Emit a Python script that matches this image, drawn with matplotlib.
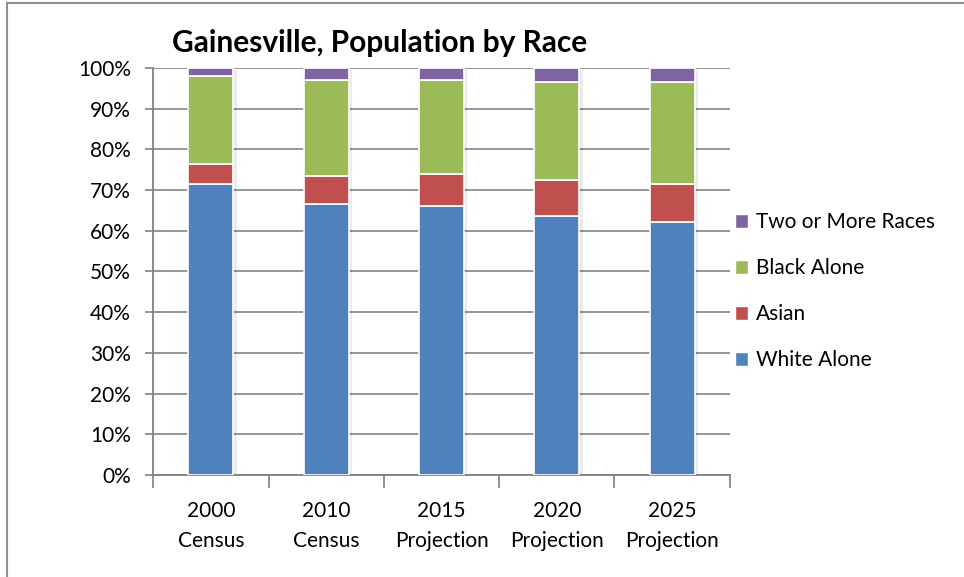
import matplotlib.pyplot as plt
import numpy as np
from matplotlib.lines import Line2D
from matplotlib.patches import Patch

plt.rcParams["font.family"] = ["Lato", "DejaVu Sans"]

CATEGORIES = ["2000\nCensus", "2010\nCensus", "2015\nProjection", "2020\nProjection", "2025\nProjection"]
WHITE = [71.5, 66.6, 66.1, 63.6, 62.2]
ASIAN = [4.9, 6.9, 7.8, 8.9, 9.2]
BLACK = [21.7, 23.6, 23.2, 24.0, 25.1]
TWO_PLUS = [1.9, 2.9, 2.9, 3.5, 3.5]

SERIES = [
    ("White Alone", WHITE, "#4F81BD"),
    ("Asian", ASIAN, "#C0504D"),
    ("Black Alone", BLACK, "#9BBB59"),
    ("Two or More Races", TWO_PLUS, "#8064A2"),
]


def main() -> None:
    fig = plt.figure(figsize=(9.64, 5.77), dpi=100)
    ax = fig.add_axes([0.159, 0.177, 0.598, 0.705])

    x = np.arange(len(CATEGORIES))
    bottom = np.zeros(len(CATEGORIES))
    for name, vals, color in SERIES:
        vals = np.array(vals)
        # soft shadow
        ax.bar(x + 0.03, vals, bottom=bottom - 0.4, width=0.39, color="#000000", alpha=0.08,
               linewidth=0, zorder=2)
        ax.bar(x, vals, bottom=bottom, width=0.39, color=color, edgecolor="white",
               linewidth=1.2, label=name, zorder=3)
        bottom += vals

    ax.set_xlim(-0.5, len(CATEGORIES) - 0.5)
    ax.set_ylim(0, 100)
    ax.set_yticks(np.arange(0, 101, 10))
    ax.set_yticklabels([f"{v}%" for v in range(0, 101, 10)], fontsize=15)
    ax.set_xticks(x)
    ax.set_xticklabels(CATEGORIES, fontsize=15, linespacing=1.6)
    ax.tick_params(axis="x", length=0, pad=19)
    ax.set_xticks(np.arange(-0.5, len(CATEGORIES)), minor=True)
    ax.tick_params(axis="x", which="minor", length=9, width=1.2, color="#808080", direction="out")
    ax.tick_params(axis="y", length=6, width=1.2, color="#808080", direction="out", pad=10)

    ax.grid(axis="y", color="#8c8c8c", linewidth=1.3, zorder=0)
    ax.set_axisbelow(True)
    for side in ["top", "right"]:
        ax.spines[side].set_visible(False)
    for side in ["left", "bottom"]:
        ax.spines[side].set_color("#808080")
        ax.spines[side].set_linewidth(1.3)

    fig.text(0.178, 0.925, "Gainesville, Population by Race", fontsize=21.5, fontweight="bold",
             va="center")

    handles = [Patch(facecolor=c, edgecolor="white") for _, _, c in SERIES][::-1]
    labels = [n for n, _, _ in SERIES][::-1]
    fig.legend(handles, labels, loc="center left", bbox_to_anchor=(0.743, 0.495), frameon=False,
               fontsize=15, handlelength=0.6, handleheight=0.6, handletextpad=0.4, labelspacing=1.25)

    # outer frame lines at top and left
    fig.add_artist(Line2D([0.007, 1.0], [0.995, 0.995], color="#909090", linewidth=1.5))
    fig.add_artist(Line2D([0.007, 0.007], [0.0, 0.995], color="#909090", linewidth=1.5))

    fig.savefig("out.png", dpi=100)
    plt.close(fig)


if __name__ == "__main__":
    main()
